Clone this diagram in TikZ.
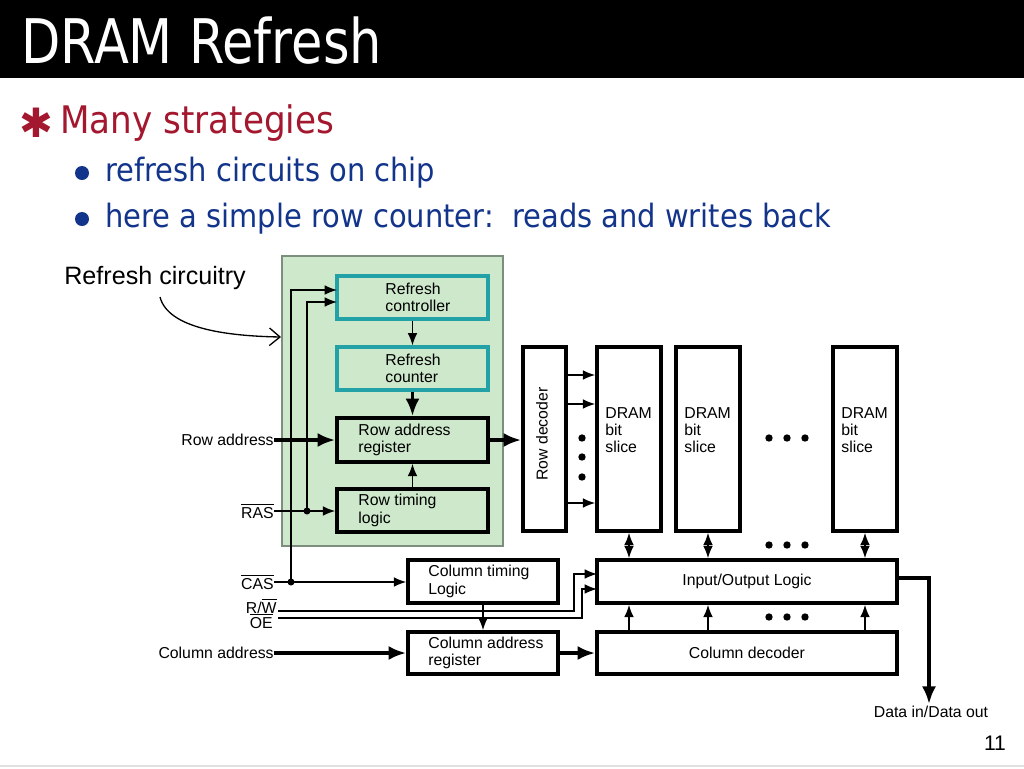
\documentclass[tikz,border=0pt]{standalone}
\usepackage{fontspec}
\setmainfont{Liberation Sans}
\newfontfamily\titlefont[FakeStretch=0.83]{DejaVu Sans}
\newfontfamily\bodyfont[FakeStretch=0.9]{DejaVu Sans}
\newfontfamily\symfont{DejaVu Sans}
\usetikzlibrary{arrows.meta}
\definecolor{boxgreen}{HTML}{CDE8CB}
\definecolor{greenedge}{HTML}{7E8E7E}
\definecolor{tealedge}{HTML}{22A2A6}
\definecolor{slidered}{HTML}{A3172F}
\definecolor{slideblue}{HTML}{12348A}
\tikzset{
  x=0.02cm, y=-0.02cm,
  dfont/.style={font=\fontsize{9}{9.8}\selectfont},
  blk/.style={draw=black, line width=2.1pt, inner sep=0pt},
  tealbox/.style={draw=tealedge, line width=1.8pt, fill=boxgreen, inner sep=0pt},
  lbl/.style={dfont, inner sep=0pt, align=left},
  thinw/.style={line width=0.75pt, -{Latex[length=7pt,width=5.5pt]}},
  thinwb/.style={line width=0.75pt, {Latex[length=7pt,width=5.5pt]}-{Latex[length=7pt,width=5.5pt]}},
  thickw/.style={line width=2.2pt, -{Latex[length=10pt,width=8pt]}},
  junction/.style={circle, fill=black, inner sep=0pt, minimum size=4pt},
  dotc/.style={circle, fill=black, inner sep=0pt, minimum size=4.2pt},
  bullettext/.style={anchor=base west, inner sep=0pt},
}
\begin{document}
\begin{tikzpicture}
\useasboundingbox (0,0) rectangle (1024,768);
\fill[white] (0,0) rectangle (1024,768);
% title bar
\fill[black] (0,0) rectangle (1024,78);
\node[anchor=base west, inner sep=0pt, text=white, font=\titlefont\fontsize{35}{40}\selectfont] (title) at (21,63) {DRAM Refresh};
% bullets
\node[text=slidered, font=\symfont\fontsize{23}{26}\selectfont, inner sep=0pt] (ast) at (36,123) {✱};
\node[bullettext, text=slidered, font=\bodyfont\fontsize{21.6}{25}\selectfont] (b1) at (60,133) {Many strategies};
\fill[slideblue] (82,173) circle (7);
\node[bullettext, text=slideblue, font=\bodyfont\fontsize{18.3}{22}\selectfont] (b2) at (105,181) {refresh circuits on chip};
\fill[slideblue] (82,219) circle (7);
\node[bullettext, text=slideblue, font=\bodyfont\fontsize{18.3}{22}\selectfont] (b3) at (105,227) {here a simple row counter:\ \ reads and writes back};
% refresh circuitry label
\node[anchor=west, inner sep=0pt, font=\fontsize{14.3}{16}\selectfont] (rc) at (64,278) {Refresh circuitry};
% green region
\node[draw=greenedge, line width=0.75pt, fill=boxgreen, minimum width=4.42cm, minimum height=5.8cm, inner sep=0pt] (green) at (392.5,401) {};
\coordinate (rcstart) at (160,297);
\coordinate (greenin) at (281,337);
\draw[line width=0.75pt, -{Straight Barb[length=6pt,width=10pt]}] (rcstart) .. controls (168,328) and (225,336) .. (greenin);
% refresh boxes
\node[tealbox, minimum width=3.02cm, minimum height=0.86cm] (ctrl) at (412.5,297.5) {};
\node[lbl, anchor=west] at (385,297.5) {Refresh\\controller};
\node[tealbox, minimum width=3.02cm, minimum height=0.86cm] (cnt) at (412.5,368.5) {};
\node[lbl, anchor=west] at (385,368.5) {Refresh\\counter};
\node[blk, minimum width=3.02cm, minimum height=0.88cm] (rar) at (412.5,440) {};
\node[lbl, anchor=west] at (358,440) {Row address\\register};
\node[blk, minimum width=3.02cm, minimum height=0.86cm] (rtl) at (412.5,510.5) {};
\node[lbl, anchor=west] at (358,510.5) {Row timing\\logic};
% row decoder and slices
\node[blk, minimum width=0.86cm, minimum height=3.68cm] (rdec) at (544.5,439) {};
\node[lbl, rotate=90] at (542,434) {Row decoder};
\node[blk, minimum width=1.28cm, minimum height=3.68cm] (s1) at (629,439) {};
\node[lbl, anchor=west] at (605,430) {DRAM\\bit\\slice};
\node[blk, minimum width=1.28cm, minimum height=3.68cm] (s2) at (708,439) {};
\node[lbl, anchor=west] at (684,430) {DRAM\\bit\\slice};
\node[blk, minimum width=1.28cm, minimum height=3.68cm] (s3) at (865,439) {};
\node[lbl, anchor=west] at (841,430) {DRAM\\bit\\slice};
% I/O and column decoder
\node[blk, minimum width=6cm, minimum height=0.86cm, dfont] (io) at (747,581.5) {Input/Output Logic};
\node[blk, minimum width=6cm, minimum height=0.84cm, dfont] (cdec) at (747,653) {Column decoder};
\node[blk, minimum width=3cm, minimum height=0.86cm] (ctl) at (483,581.5) {};
\node[lbl, anchor=west] at (428,581.5) {Column timing\\Logic};
\node[blk, minimum width=3cm, minimum height=0.84cm] (car) at (483,653) {};
\node[lbl, anchor=west] at (428,653) {Column address\\register};
% input labels
\node[lbl, anchor=east] (rowaddr) at (274,440) {Row address};
\node[lbl, anchor=east] (ras) at (274,511) {$\overline{\hbox{RAS}}$};
\node[lbl, anchor=east] (cas) at (274,582) {$\overline{\hbox{CAS}}$};
\node[lbl, anchor=east] (rw) at (277,606) {R/$\overline{\hbox{W}}$};
\node[lbl, anchor=east] (oe) at (273,621) {$\overline{\hbox{OE}}$};
\node[lbl, anchor=east] (coladdr) at (274,653) {Column address};
% internal refresh arrows
\draw[thinw] (ctrl.south) -- (cnt.north);
\draw[thickw] (cnt.south) -- (rar.north);
\draw[thinw] (rtl.north) -- (rar.south);
\draw[thickw] (rowaddr.east) -- (rowaddr.east -| rar.west);
\draw[thickw] (rar.east) -- (rdec.west |- rar.east);
% RAS / CAS wiring
\coordinate (jras) at (307,511);
\coordinate (jcas) at (291,582);
\coordinate (ctrlin1) at (337,290);
\coordinate (ctrlin2) at (337,302);
\draw[thinw] (ras.east) -- (ras.east -| rtl.west);
\node[junction] at (jras) {};
\draw[thinw] (jras) |- (ctrlin2);
\draw[thinw] (cas.east) -- (cas.east -| ctl.west);
\node[junction] at (jcas) {};
\draw[thinw] (jcas) |- (ctrlin1);
% R/W and OE
\coordinate (rwstart) at (278,611);
\coordinate (rwend) at (574,611);
\coordinate (ioin1) at (597,574);
\coordinate (oestart) at (278,618);
\coordinate (oeend) at (582,618);
\coordinate (ioin2) at (597,589);
\draw[thinw] (rwstart) -- (rwend) |- (ioin1);
\draw[thinw] (oestart) -- (oeend) |- (ioin2);
% column path
\draw[thinw] (ctl.south) -- (car.north);
\draw[thickw] (coladdr.east) -- (coladdr.east -| car.west);
\draw[thickw] (car.east) -- (cdec.west);
% row decoder to slice
\draw[thinw] (rdec.east |- 0,375) -- (s1.west |- 0,375);
\draw[thinw] (rdec.east |- 0,404) -- (s1.west |- 0,404);
\draw[thinw] (rdec.east |- 0,503) -- (s1.west |- 0,503);
\foreach \yy in {438,457,477} \node[dotc] at (582,\yy) {};
\foreach \yy in {438,545,617} { \foreach \xx in {769,787,805} \node[dotc] at (\xx,\yy) {}; }
% slices <-> IO, decoder -> IO
\draw[thinwb] (s1.south) -- (io.north -| s1.south);
\draw[thinwb] (s2.south) -- (io.north -| s2.south);
\draw[thinwb] (s3.south) -- (io.north -| s3.south);
\draw[thinw] (cdec.north -| s1.south) -- (io.south -| s1.south);
\draw[thinw] (cdec.north -| s2.south) -- (io.south -| s2.south);
\draw[thinw] (cdec.north -| s3.south) -- (io.south -| s3.south);
% data in/out
\node[lbl, anchor=center] (data) at (931,712) {Data in/Data out};
\coordinate (dturn) at (929,578);
\coordinate (dend) at (929,704);
\draw[thickw] (io.east |- dturn) -- (dturn) -- (dend);
% page number
\node[inner sep=0pt, font=\fontsize{12}{14}\selectfont] (pg) at (995,743) {11};
\draw[black!12, line width=0.6pt] (0,766) -- (1024,766);
\end{tikzpicture}
\end{document}
